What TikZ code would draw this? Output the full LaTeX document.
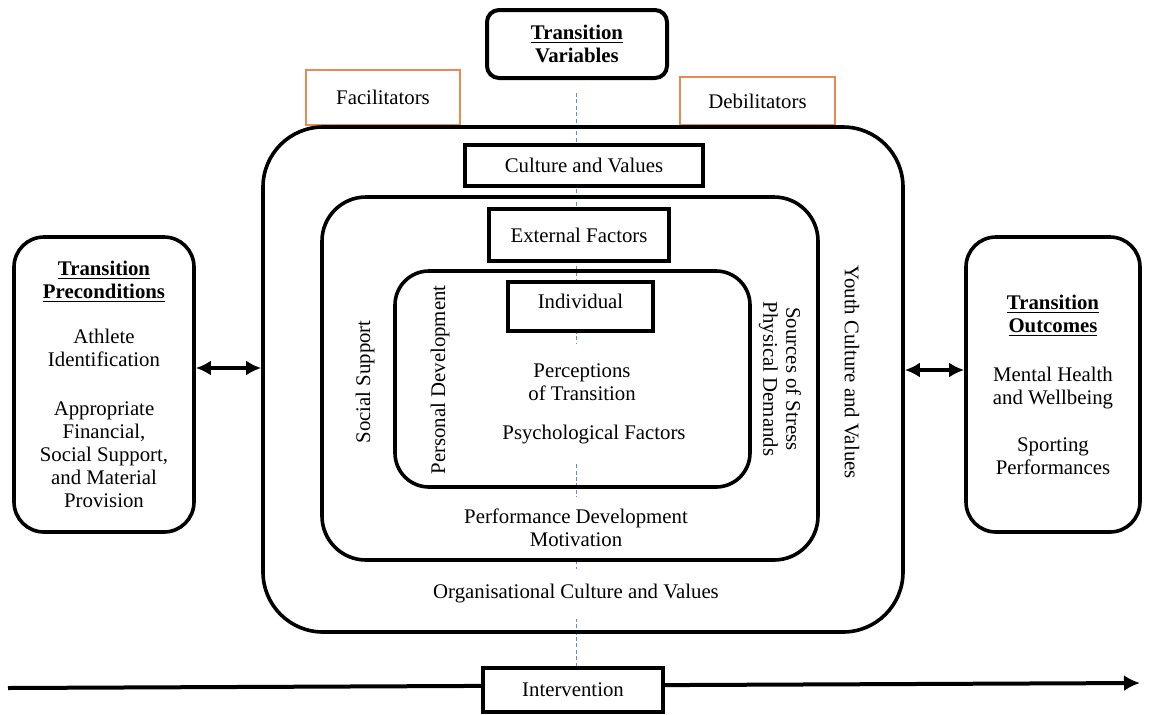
\documentclass[tikz,border=0pt]{standalone}
\usepackage{fontspec}
\setmainfont{Liberation Serif}
\usetikzlibrary{arrows.meta}
\definecolor{orng}{HTML}{E98A52}
\definecolor{bluel}{HTML}{5A8FD8}
\begin{document}
\begin{tikzpicture}[x=0.5pt,y=-0.5pt,
  every node/.style={font=\fontsize{10.4}{11.5}\selectfont},
  bigbox/.style={draw, line width=1.8pt},
  sqbox/.style={draw, line width=2.3pt, fill=white},
  orbox/.style={draw=orng, line width=0.8pt, fill=white},
  sidebox/.style={draw, line width=1.8pt, rounded corners=15pt, minimum width=89pt, minimum height=147.5pt, align=center},
  txt/.style={align=center, fill=white},
  dbl/.style={{Latex[length=7.5pt,width=7.5pt]}-{Latex[length=7.5pt,width=7.5pt]}, line width=1.8pt},
  guide/.style={draw=bluel, line width=0.5pt, dash pattern=on 2pt off 1.2pt},
  timeline/.style={-{Latex[length=8pt,width=8pt]}, line width=2pt}]
\useasboundingbox[fill=white] (0,0) rectangle (1153,714);

% guide line (drawn first, boxes and texts cover it)
\coordinate (gtop) at (576,93);
\coordinate (gbot) at (576,668);
\draw[guide] (gtop) -- (gbot);

% timeline
\coordinate (tl0) at (8,688);
\coordinate (tl1) at (1140,683);
\draw[timeline] (tl0) -- (tl1);

% texts that hide the guide line
\node[txt, inner ysep=10pt] (perc) at (582,404) {Perceptions\\of Transition\\[8pt]\hspace*{12pt}Psychological Factors};
\node[txt, inner ysep=6pt] (perf) at (576,528) {Performance Development\\Motivation};
\node[txt, inner ysep=8pt] (org) at (576,594) {Organisational Culture and Values};

% top
\node[draw, line width=2pt, rounded corners=6pt, minimum width=90pt, minimum height=34pt, align=center, fill=white]
  (tv) at (577,44) {\textbf{\underline{Transition}}\\\textbf{Variables}};
\node[orbox, minimum width=77pt, minimum height=27.5pt] (fac) at (383,97.5) {Facilitators};
\node[orbox, minimum width=77.5pt, minimum height=24pt] (deb) at (757.5,101) {Debilitators};

% nested boxes
\node[bigbox, rounded corners=30pt, minimum width=320pt, minimum height=252.5pt] (outer) at (583,379.5) {};
\node[bigbox, rounded corners=22pt, minimum width=248pt, minimum height=181.5pt] (middle) at (570,378.5) {};
\node[bigbox, rounded corners=17pt, minimum width=177.5pt, minimum height=108pt] (inner) at (572.5,379) {};

\node[sqbox, minimum width=119pt, minimum height=20.5pt] (cult) at (584,165.5) {Culture and Values};
\node[sqbox, minimum width=90pt, minimum height=26pt] (ext) at (579,235) {External Factors};
\node[sqbox, minimum width=72.5pt, minimum height=24.5pt] (indiv) at (580.5,306.5) {};
\node (indivt) at (580.5,301) {Individual};

\node[rotate=90] (soc) at (365,382) {Social Support};
\node[rotate=90] (pers) at (440,380) {Personal Development};
\node[rotate=-90, align=center] (src) at (780,379) {Sources of Stress\\Physical Demands};
\node[rotate=-90] (youth) at (852,372) {Youth Culture and Values};

% side boxes
\node[sidebox, minimum width=90pt] (pre) at (104,384.5) {\textbf{\underline{Transition}}\\\textbf{\underline{Preconditions}}\\[11pt]Athlete\\Identification\\[13pt]Appropriate\\Financial,\\Social Support,\\and Material\\Provision};
\node[sidebox, minimum width=87pt] (outc) at (1053,384.5) {\textbf{\underline{Transition}}\\\textbf{\underline{Outcomes}}\\[13pt]Mental Health\\and Wellbeing\\[12pt]Sporting\\Performances};

\draw[dbl] (pre.east |- 0,368) -- (outer.west |- 0,368);
\draw[dbl] (outer.east |- 0,370) -- (outc.west |- 0,370);

% intervention
\node[sqbox, line width=2pt, minimum width=90pt, minimum height=22pt] (interv) at (573,690) {Intervention};
\end{tikzpicture}
\end{document}
